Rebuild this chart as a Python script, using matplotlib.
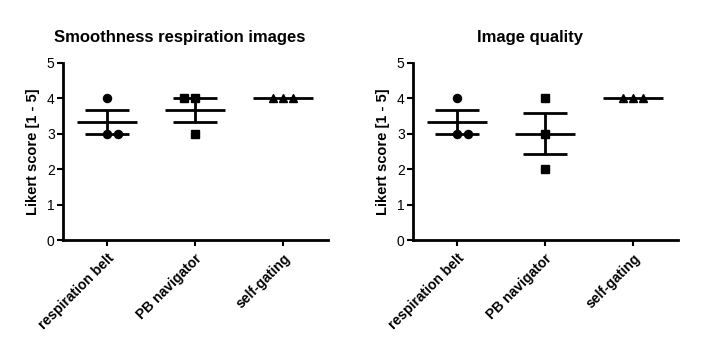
import matplotlib
matplotlib.use("Agg")
import matplotlib.pyplot as plt
import numpy as np

plt.rcParams["font.family"] = ["Liberation Sans", "DejaVu Sans"]

# ---------------------------------------------------------------- data
groups = ["respiration belt", "PB navigator", "self-gating"]
titles = ["Smoothness respiration images", "Image quality"]
markers = ["o", "s", "^"]

smooth_belt = [4, 3, 3]
smooth_pb = [4, 4, 3]
smooth_self = [4, 4, 4]

quality_belt = [4, 3, 3]
quality_pb = [4, 3, 2]
quality_self = [4, 4, 4]

# horizontal spread of tied points (GraphPad style scatter)
offsets_smooth = [[0, 0, 0.13], [-0.12, 0, 0], [-0.12, 0, 0.11]]
offsets_quality = [[0, 0, 0.13], [0, 0, 0], [-0.12, 0, 0.11]]

panels = [
    ([smooth_belt, smooth_pb, smooth_self], offsets_smooth),
    ([quality_belt, quality_pb, quality_self], offsets_quality),
]

fig = plt.figure(figsize=(7.01, 3.55), dpi=100)
lefts = [63 / 701, 413 / 701]

for i, (data, offs) in enumerate(panels):
    ax = fig.add_axes([lefts[i], 115 / 355, 265 / 701, 177 / 355])
    for j, vals in enumerate(data):
        vals = np.array(vals, dtype=float)
        xs = j + np.array(offs[j])
        ms = 6 if markers[j] == "^" else 5.8
        ax.plot(xs, vals, linestyle="none", marker=markers[j], color="black",
                markersize=ms, zorder=3, clip_on=False)
        mean = vals.mean()
        sem = vals.std(ddof=1) / np.sqrt(len(vals))
        ax.hlines(mean, j - 0.34, j + 0.34, color="black", lw=2, zorder=2)
        if sem > 0:
            ax.errorbar(j, mean, yerr=sem, fmt="none", ecolor="black",
                        elinewidth=2, capsize=16, capthick=2, zorder=2)
    ax.set_xlim(-0.5, 2.51)
    ax.set_ylim(0, 5)
    ax.set_yticks(range(6))
    ax.set_xticks(range(3))
    ax.set_xticklabels(groups, rotation=45, ha="right", rotation_mode="anchor",
                       fontsize=10, fontweight="bold")
    ax.tick_params(axis="y", labelsize=10, width=1.5, length=4, pad=2)
    ax.tick_params(axis="x", width=1.5, length=4, pad=4)
    for s in ["top", "right"]:
        ax.spines[s].set_visible(False)
    for s in ["left", "bottom"]:
        ax.spines[s].set_linewidth(2)
    ax.set_ylabel("Likert score [1 - 5]", fontsize=10.5, fontweight="bold",
                  labelpad=5)
    ax.set_title(titles[i], fontsize=12, fontweight="bold", pad=15, x=0.44)

fig.savefig("out.png", dpi=100)
